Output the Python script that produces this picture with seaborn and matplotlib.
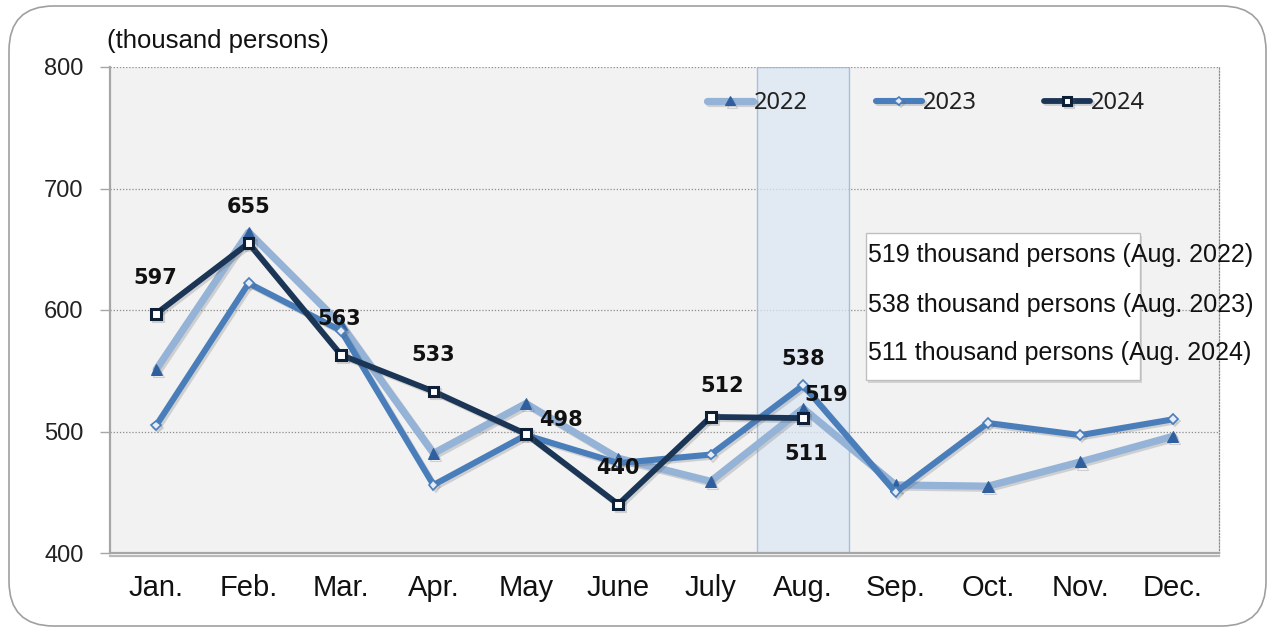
import matplotlib
matplotlib.use("Agg")
import matplotlib.pyplot as plt
import matplotlib.patheffects as pe
from matplotlib.patches import FancyBboxPatch, Rectangle
import seaborn as sns
import pandas as pd

# ---------------- data ----------------
months = ["Jan.", "Feb.", "Mar.", "Apr.", "May", "June", "July",
          "Aug.", "Sep.", "Oct.", "Nov.", "Dec."]
v2022 = [551, 664, 588, 482, 523, 478, 459, 519, 456, 455, 475, 496]
v2023 = [505, 622, 583, 456, 497, 474, 481, 538, 450, 507, 497, 510]
v2024 = [597, 655, 563, 533, 498, 440, 512, 511]
series_names = ["2022", "2023", "2024"]
y_ticks = [400, 500, 600, 700, 800]
unit_label = "(thousand persons)"
box_lines = ["519 thousand persons (Aug. 2022)",
             "538 thousand persons (Aug. 2023)",
             "511 thousand persons (Aug. 2024)"]
highlight_month = "Aug."

# ---------------- style ----------------
sns.set_theme(style="white")
plt.rcParams["font.family"] = ["Liberation Sans", "DejaVu Sans"]

fig = plt.figure(figsize=(12.75, 6.31), dpi=100)
fig.patch.set_facecolor("white")
ax = fig.add_axes([110 / 1275, 1 - 553 / 631, 1109 / 1275, 486 / 631])
ax.set_facecolor("#F2F2F2")

# rounded outer border
fig.patches.append(FancyBboxPatch((9 / 1275, 5 / 631), 1257 / 1275, 620 / 631,
                                  boxstyle="round,pad=0,rounding_size=0.035",
                                  transform=fig.transFigure, facecolor="none",
                                  edgecolor="#A0A0A0", linewidth=1.2,
                                  mutation_aspect=1275 / 631, zorder=0))

df22 = pd.DataFrame({"month": months, "value": v2022})
df23 = pd.DataFrame({"month": months, "value": v2023})
df24 = pd.DataFrame({"month": months[:len(v2024)], "value": v2024})

shadow = [pe.SimpleLineShadow(offset=(1.5, -1.5), alpha=0.22, shadow_color="#555555"), pe.Normal()]

sns.lineplot(data=df22, x="month", y="value", sort=False, ax=ax, label=series_names[0],
             color="#95B3D7", linewidth=5.2, marker="^", markersize=8,
             markerfacecolor="#2F5F9E", markeredgecolor="#2F5F9E",
             path_effects=shadow, zorder=3)
sns.lineplot(data=df23, x="month", y="value", sort=False, ax=ax, label=series_names[1],
             color="#4A7EBB", linewidth=4.4, marker="D", markersize=5,
             markerfacecolor="#E4ECF7", markeredgecolor="#4A7EBB", markeredgewidth=1.2,
             path_effects=shadow, zorder=4)
sns.lineplot(data=df24, x="month", y="value", sort=False, ax=ax, label=series_names[2],
             color="#1B3556", linewidth=4.2, marker="s", markersize=7,
             markerfacecolor="white", markeredgecolor="#0E2038", markeredgewidth=2.2,
             path_effects=shadow, zorder=5)

# highlight band for August
hi = months.index(highlight_month)
ax.axvspan(hi - 0.5, hi + 0.5, facecolor="#DCE6F2", alpha=0.75,
           edgecolor="#8DB0DA", linewidth=1.0, zorder=1)

# axes
ax.set_xlim(-0.5, len(months) - 0.5)
ax.set_ylim(y_ticks[0], y_ticks[-1])
ax.set_yticks(y_ticks)
ax.set_yticklabels([str(t) for t in y_ticks], fontsize=17, color="#222222")
ax.set_xticks(range(len(months)))
ax.set_xticklabels(months, fontsize=21, color="#111111")
ax.set_xticks([i - 0.5 for i in range(len(months))], minor=True)
ax.tick_params(axis="x", which="major", length=0, pad=15)
ax.tick_params(axis="x", which="minor", length=7, width=1.5, color="#A6A6A6", direction="out")
ax.tick_params(axis="y", which="major", length=7, width=1.0, color="#A6A6A6",
               direction="out", pad=12, left=True)
ax.set_xlabel("")
ax.set_ylabel("")

ax.yaxis.grid(True, linestyle=(0, (1, 1.5)), color="#8C8C8C", linewidth=0.9, zorder=0)
ax.set_axisbelow(True)
for s in ["left", "bottom"]:
    ax.spines[s].set_color("#A6A6A6")
    ax.spines[s].set_linewidth(1.6)
ax.spines["bottom"].set_path_effects([pe.SimpleLineShadow(offset=(0, -2), alpha=0.3), pe.Normal()])
ax.spines["top"].set_visible(False)
ax.spines["right"].set_color("#8C8C8C")
ax.spines["right"].set_linestyle((0, (1, 1.5)))
ax.spines["right"].set_linewidth(0.9)

# unit label
fig.text(107 / 1275, 1 - 41 / 631, unit_label, fontsize=18.5, ha="left", va="center",
         color="#111111")

# data labels
lab_font = dict(fontsize=15, fontweight="bold", color="#111111",
                family=["DejaVu Sans"], ha="center", va="center",
                textcoords="offset points", zorder=8)
offs24 = [(-1, 26), (0, 26), (-1, 26), (0, 26), (25, 10), (0, 26), (8, 22), (2, -26)]
for i, v in enumerate(v2024):
    ax.annotate(str(v), xy=(i, v), xytext=offs24[i], **lab_font)
ax.annotate(str(v2023[hi]), xy=(hi, v2023[hi]), xytext=(0, 19), **lab_font)
ax.annotate(str(v2022[hi]), xy=(hi, v2022[hi]), xytext=(17, 10), **lab_font)

# text box
shadow_rect = Rectangle((0.6835, 0.350), 0.2471, 0.302, transform=ax.transAxes,
                        facecolor="#9A9A9A", alpha=0.35, edgecolor="none", zorder=6)
ax.add_patch(shadow_rect)
ax.add_patch(Rectangle((0.6817, 0.356), 0.2471, 0.302, transform=ax.transAxes,
                       facecolor="white", edgecolor="#BFBFBF", linewidth=1.0, zorder=6.5))
for txt, yy in zip(box_lines, [0.613, 0.510, 0.412]):
    ax.text(0.6835, yy, txt, transform=ax.transAxes, fontsize=18, ha="left", va="center",
            color="#111111", zorder=7)

# legend
handles, labels = ax.get_legend_handles_labels()
leg = ax.legend(handles, labels, loc="center left", bbox_to_anchor=(707 / 1275, 1 - 103 / 631),
                bbox_transform=fig.transFigure, ncol=3, frameon=False,
                handlelength=1.95, handletextpad=0.05, columnspacing=2.85,
                borderpad=0, borderaxespad=0, numpoints=1, markerscale=0.85,
                prop={"family": ["Noto Sans", "DejaVu Sans"], "size": 17})
for t in leg.get_texts():
    t.set_color("#222222")

fig.savefig("out.png", dpi=100, facecolor="white")
